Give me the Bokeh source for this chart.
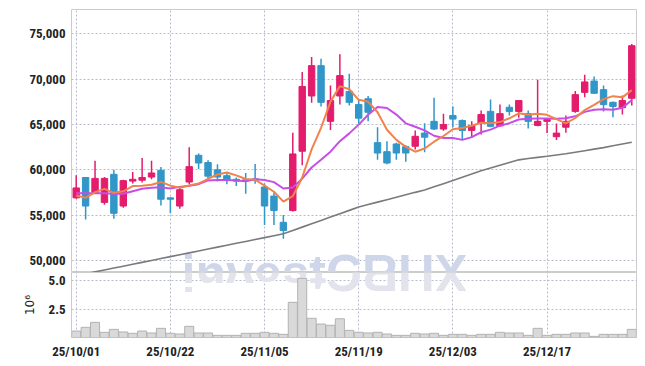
from bokeh.plotting import figure
from bokeh.layouts import column
from bokeh.models import ColumnDataSource, FixedTicker, NumeralTickFormatter
from bokeh.embed import file_html
from bokeh.resources import INLINE
from bokeh.core.properties import value

# ---------------- data ----------------
dates = ["25/10/01", "25/10/02", "25/10/10", "25/10/13", "25/10/14", "25/10/15", "25/10/16", "25/10/17", "25/10/20", "25/10/21",
         "25/10/22", "25/10/23", "25/10/24", "25/10/27", "25/10/28", "25/10/29", "25/10/30", "25/10/31", "25/11/03", "25/11/04",
         "25/11/05", "25/11/06", "25/11/07", "25/11/10", "25/11/11", "25/11/12", "25/11/13", "25/11/14", "25/11/17", "25/11/18",
         "25/11/19", "25/11/20", "25/11/21", "25/11/24", "25/11/25", "25/11/26", "25/11/27", "25/11/28", "25/12/01", "25/12/02",
         "25/12/03", "25/12/04", "25/12/05", "25/12/08", "25/12/09", "25/12/10", "25/12/11", "25/12/12", "25/12/15", "25/12/16",
         "25/12/17", "25/12/18", "25/12/19", "25/12/22", "25/12/23", "25/12/24", "25/12/26", "25/12/29", "25/12/30", "26/01/02"]

opens = [56900, 59150, 57500, 56400, 59500, 56000, 58750, 58850, 59200, 59950,
         56900, 56000, 58650, 61600, 60800, 60000, 59350, 58950, 58900, 59000,
         58100, 57100, 54200, 55500, 62050, 68150, 71500, 65350, 68150, 68650,
         67200, 67850, 63000, 62000, 62850, 62550, 62600, 64050, 65350, 64500,
         66000, 65450, 64350, 65150, 66450, 64850, 66900, 66450, 66200, 64900,
         65350, 63650, 64700, 66450, 68550, 69800, 68850, 67450, 66850, 67900]
highs = [59400, 59200, 61000, 59200, 60000, 58900, 59750, 61300, 61000, 60300,
         56950, 58200, 62500, 61800, 61050, 60600, 59650, 59150, 59650, 60650,
         58500, 57500, 55000, 64100, 70800, 72450, 72250, 69300, 72750, 70600,
         67750, 68150, 64700, 63150, 63000, 62700, 64350, 65150, 67950, 66200,
         67000, 65550, 65350, 66550, 67750, 67200, 67200, 67700, 66550, 69950,
         65700, 65100, 66000, 68700, 70500, 70300, 69300, 67550, 68200, 73900]
lows = [56800, 54500, 57400, 56150, 54600, 55800, 58500, 58600, 58950, 56050,
        55200, 55700, 58400, 60100, 58800, 58700, 58400, 58200, 57350, 58450,
        53900, 53900, 52400, 55400, 60500, 67400, 67000, 64400, 67200, 67100,
        65100, 65350, 61100, 60600, 61100, 60900, 62250, 61950, 64400, 64300,
        64700, 63300, 63550, 63900, 64700, 64750, 66000, 65750, 64550, 64800,
        64050, 63300, 64100, 66300, 68000, 68400, 66450, 65800, 66100, 67100]
closes = [58000, 56000, 59050, 59050, 55200, 58800, 58950, 59150, 59650, 56750,
          56750, 57800, 60350, 60750, 59300, 59200, 58900, 58750, 58800, 58850,
          56000, 55500, 53300, 61750, 69200, 71500, 67450, 67650, 70400, 67450,
          65700, 66350, 61850, 60750, 61850, 61850, 63700, 63600, 64500, 65000,
          65600, 64350, 64900, 66100, 64800, 66200, 66450, 67650, 65350, 65350,
          65550, 64050, 65350, 68300, 69700, 68450, 67200, 67000, 67650, 73700]
# volume, millions of shares
volumes = [0.57, 0.90, 1.34, 0.46, 0.72, 0.49, 0.37, 0.57, 0.40, 0.81,
           0.37, 0.31, 0.99, 0.40, 0.40, 0.19, 0.19, 0.19, 0.37, 0.37,
           0.46, 0.37, 0.28, 3.11, 5.23, 1.70, 1.19, 1.08, 1.66, 0.63,
           0.46, 0.40, 0.46, 0.31, 0.19, 0.19, 0.37, 0.31, 0.37, 0.19,
           0.28, 0.28, 0.19, 0.28, 0.28, 0.46, 0.40, 0.40, 0.19, 0.81,
           0.19, 0.28, 0.28, 0.40, 0.40, 0.10, 0.28, 0.28, 0.28, 0.72]
ma5 = [57160, 56910, 57530, 57900, 57460, 57620, 58210, 58230, 58350, 58660,
       58250, 58020, 58260, 58480, 58990, 59480, 59700, 59380, 58990, 58900,
       58260, 57580, 56490, 57080, 59150, 62250, 64640, 67510, 69240, 68890,
       67730, 67510, 66350, 64420, 63300, 62530, 62000, 62350, 63100, 63730,
       64480, 64610, 64870, 65190, 65150, 65270, 65690, 66240, 66090, 66200,
       66070, 65590, 65130, 65720, 66590, 67170, 67800, 68130, 68000, 68800]
ma10 = [57420, 57400, 57420, 57420, 57350, 57350, 57640, 57900, 58010, 58060,
        57935, 58115, 58245, 58415, 58825, 58865, 58860, 58820, 58735, 58945,
        58870, 58640, 57935, 58035, 59025, 60255, 61110, 62000, 63160, 64020,
        64990, 66075, 66930, 66830, 66095, 65130, 64755, 64350, 63760, 63515,
        63505, 63305, 63610, 64145, 64440, 64875, 65150, 65555, 65640, 65675,
        65670, 65640, 65685, 65905, 66395, 66620, 66695, 66630, 66860, 67695]
ma_long = [48330, 48520, 48730, 48940, 49150, 49360, 49570, 49780, 49990, 50200,
           50410, 50620, 50830, 51040, 51250, 51460, 51670, 51880, 52090, 52300,
           52510, 52720, 52930, 53300, 53670, 54040, 54410, 54780, 55150, 55520,
           55890, 56160, 56430, 56700, 56970, 57240, 57510, 57770, 58120, 58470,
           58820, 59180, 59540, 59900, 60200, 60500, 60800, 61100, 61240, 61370,
           61500, 61640, 61770, 61940, 62110, 62280, 62450, 62650, 62850, 63050]
price_ticks = [50000, 55000, 60000, 65000, 70000, 75000]
volume_ticks = [2.5, 5.0]
watermark = "investCRUX"

# ---------------- styling ----------------
UP, DOWN = "#e31c6c", "#3196c8"
FONT = "'Liberation Sans Narrow', 'Roboto Condensed', 'DejaVu Sans Condensed', 'Liberation Sans', sans-serif"
GRID = "#b7bccf"
idx = list(range(len(dates)))
tick_idx = idx[::10]
labels = {i: dates[i] for i in tick_idx}
colors = [UP if c >= o else DOWN for o, c in zip(opens, closes)]

src = ColumnDataSource(dict(x=idx, open=opens, high=highs, low=lows, close=closes,
                            vol=volumes, ma5=ma5, ma10=ma10, mal=ma_long, color=colors))

X_RANGE = (-0.5, len(dates) - 0.5)
FW = 565
SLOT = FW / len(dates)
LEFT = 71

p = figure(frame_width=FW, frame_height=263, x_range=X_RANGE, y_range=(48660, 77700),
           output_backend="svg", toolbar_location=None, x_axis_location=None,
           min_border_left=LEFT, min_border_right=9, min_border_top=9, min_border_bottom=0,
           background_fill_color="white", border_fill_color="white")
p.outline_line_color = "#cccccc"

# watermark
p.text(x=[X_RANGE[0] + 110 / SLOT], y=[48660], text=[watermark],
       text_font=value("Liberation Sans"), text_font_style="bold", text_font_size="50px",
       text_color="#d0d6ea", text_baseline="alphabetic", text_align="left")

p.line("x", "mal", source=src, line_color="#7a7a7a", line_width=1.6)
p.segment(x0="x", y0="high", x1="x", y1="low", source=src, line_color="color", line_width=1.5)
p.vbar(x="x", top="close", bottom="open", width=0.68, source=src,
       fill_color="color", line_color="color", line_width=1)
p.line("x", "ma10", source=src, line_color="#c64ee6", line_width=2)
p.line("x", "ma5", source=src, line_color="#f0824c", line_width=2)

p.yaxis.ticker = FixedTicker(ticks=price_ticks)
p.yaxis.formatter = NumeralTickFormatter(format="0,0")
p.xgrid.ticker = FixedTicker(ticks=tick_idx)

# ---------------- volume pane ----------------
v = figure(frame_width=FW, frame_height=65, x_range=p.x_range, y_range=(0, 5.75),
           output_backend="svg", toolbar_location=None,
           min_border_left=LEFT, min_border_right=9, min_border_top=0, min_border_bottom=29,
           background_fill_color="white", border_fill_color="white")
v.outline_line_color = "#cccccc"

# reflection of the watermark (each letter turned over)
adv = [0.278, 0.611, 0.556, 0.556, 0.556, 0.333, 0.722, 0.722, 0.722, 0.667]
pos, acc = [], 0.0
for a in adv:
    pos.append(X_RANGE[0] + (110 + (acc + a / 2) * 50) / SLOT)
    acc += a
v.text(x=pos, y=[5.75] * len(pos), text=list(watermark), angle=3.14159265,
       text_font=value("Liberation Sans"), text_font_style="bold", text_font_size="50px",
       text_color="#e2e3ec", text_baseline="alphabetic", text_align="center")

v.vbar(x="x", top="vol", bottom=0, width=0.96, source=src,
       fill_color="#d9d9d9", line_color="#b3b3b3", line_width=1)

v.xaxis.ticker = FixedTicker(ticks=tick_idx)
v.xaxis.major_label_overrides = labels
v.yaxis.ticker = FixedTicker(ticks=volume_ticks)
v.yaxis.formatter = NumeralTickFormatter(format="0.0")
v.yaxis.axis_label = "10\u2076"
v.yaxis.axis_label_text_font = "DejaVu Sans"
v.yaxis.axis_label_text_font_style = "normal"
v.yaxis.axis_label_text_font_size = "12px"
v.yaxis.axis_label_text_color = "#222222"
v.yaxis.axis_label_standoff = 9

for ax in (p.yaxis[0], v.xaxis[0], v.yaxis[0]):
    ax.axis_line_color = None
    ax.major_tick_line_color = None
    ax.minor_tick_line_color = None
    ax.major_tick_out = 0
    ax.major_tick_in = 0
    ax.minor_tick_out = 0
    ax.major_label_standoff = 6
    ax.major_label_text_font = FONT
    ax.major_label_text_font_style = "bold"
    ax.major_label_text_font_size = "13px"
    ax.major_label_text_color = "#222222"
for g in (p.xgrid[0], p.ygrid[0], v.xgrid[0], v.ygrid[0]):
    g.grid_line_color = GRID
    g.grid_line_dash = "2 2"
    g.grid_line_width = 1

layout = column(p, v, spacing=0)
open("out.html", "w").write(file_html(layout, INLINE))
